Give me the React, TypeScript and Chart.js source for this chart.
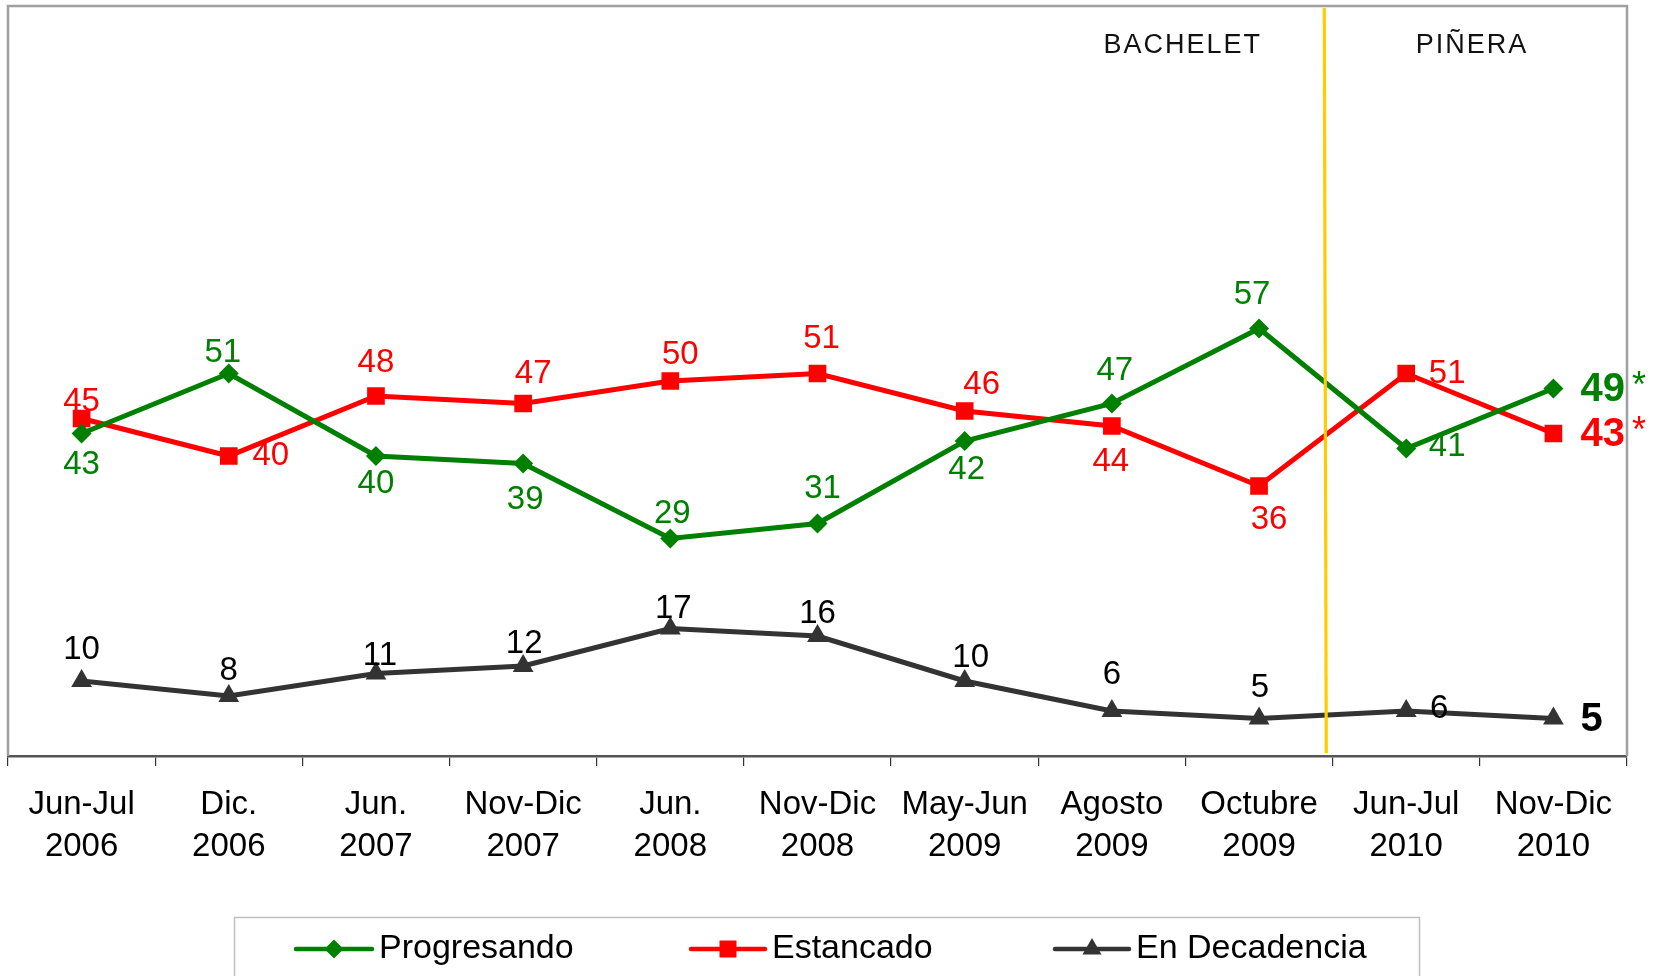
import React, { useEffect, useRef } from "react";
import { Chart, registerables } from "chart.js";

Chart.register(...registerables);

const CATEGORIES: string[][] = [
  ["Jun-Jul", "2006"],
  ["Dic.", "2006"],
  ["Jun.", "2007"],
  ["Nov-Dic", "2007"],
  ["Jun.", "2008"],
  ["Nov-Dic", "2008"],
  ["May-Jun", "2009"],
  ["Agosto", "2009"],
  ["Octubre", "2009"],
  ["Jun-Jul", "2010"],
  ["Nov-Dic", "2010"],
];
const PROGRESANDO = [43, 51, 40, 39, 29, 31, 42, 47, 57, 41, 49];
const ESTANCADO = [45, 40, 48, 47, 50, 51, 46, 44, 36, 51, 43];
const DECADENCIA = [10, 8, 11, 12, 17, 16, 10, 6, 5, 6, 5];
const SERIES_NAMES = ["Progresando", "Estancado", "En Decadencia"];
const Y_MIN = 0;
const Y_MAX = 100;
const PERIOD_NAMES = ["BACHELET", "PIÑERA"];
const PERIOD_CENTERS = [7.475, 9.44];
const DIVIDER_INDEX = 8.45;

// label offsets (style): [dx, dy] relative to point; last point is drawn bold to the right
const GREEN_OFFSETS = [[0, 31], [-6, -21], [0, 28], [2, 36], [2, -25], [5, -35], [2, 29], [3, -33], [-7, -34], [41, -2], null];
const RED_OFFSETS = [[0, -17], [42, 0], [0, -33], [10, -30], [10, -26], [4, -35], [17, -26], [-1, 36], [10, 34], [41, 0], null];
const BLACK_OFFSETS = [[0, -31], [0, -25], [4, -18], [1, -22], [3, -20], [0, -22], [6, -23], [0, -36], [1, -31], [33, -2], null];

const FONT = "'Liberation Sans', Arial, Helvetica, sans-serif";
const GREEN = "#008000";
const RED = "#FF0000";
const DARK = "#333333";

function drawMarker(ctx: CanvasRenderingContext2D, style: string, x: number, y: number, color: string) {
  ctx.save();
  ctx.fillStyle = color;
  ctx.beginPath();
  if (style === "diamond") {
    const r = 9.5;
    ctx.moveTo(x - r, y);
    ctx.lineTo(x, y - r);
    ctx.lineTo(x + r, y);
    ctx.lineTo(x, y + r);
  } else if (style === "square") {
    const h = 8.5;
    ctx.rect(x - h, y - h, 2 * h, 2 * h);
  } else {
    const r = 11;
    ctx.moveTo(x, y - r);
    ctx.lineTo(x + r * 0.866, y + r * 0.5);
    ctx.lineTo(x - r * 0.866, y + r * 0.5);
  }
  ctx.closePath();
  ctx.fill();
  ctx.restore();
}

const decorPlugin = {
  id: "decor",
  beforeDatasetsDraw(chart: any) {
    const { ctx, chartArea } = chart;
    ctx.save();
    ctx.strokeStyle = "#A0A0A0";
    ctx.lineWidth = 2.5;
    ctx.beginPath();
    ctx.moveTo(chartArea.left, chartArea.bottom);
    ctx.lineTo(chartArea.left, chartArea.top);
    ctx.lineTo(chartArea.right, chartArea.top);
    ctx.lineTo(chartArea.right, chartArea.bottom);
    ctx.stroke();
    ctx.restore();
  },
  afterDatasetsDraw(chart: any) {
    const { ctx, chartArea } = chart;
    const xs = chart.scales.x;
    ctx.save();
    // divider
    const dx = xs.getPixelForValue(DIVIDER_INDEX);
    ctx.strokeStyle = "#FFCC00";
    ctx.lineWidth = 3.2;
    ctx.beginPath();
    ctx.moveTo(dx - 1, chartArea.top + 2);
    ctx.lineTo(dx + 1, chartArea.bottom - 3);
    ctx.stroke();

    // period names
    ctx.fillStyle = "#111111";
    ctx.font = `27px ${FONT}`;
    (ctx as any).letterSpacing = "2px";
    ctx.textAlign = "left";
    ctx.textBaseline = "alphabetic";
    PERIOD_NAMES.forEach((name, i) => {
      const w = ctx.measureText(name).width - 2;
      const cx = xs.getPixelForValue(PERIOD_CENTERS[i]);
      ctx.fillText(name, cx - w / 2, 53);
    });
    (ctx as any).letterSpacing = "0px";

    // data labels
    const offsetSets = [GREEN_OFFSETS, RED_OFFSETS, BLACK_OFFSETS];
    const colors = [GREEN, RED, "#000000"];
    const star = [true, true, false];
    chart.data.datasets.forEach((ds: any, di: number) => {
      const meta = chart.getDatasetMeta(di);
      meta.data.forEach((pt: any, i: number) => {
        const v = ds.data[i];
        const off = offsetSets[di][i];
        ctx.fillStyle = colors[di];
        if (off) {
          ctx.font = `33px ${FONT}`;
          ctx.textAlign = "center";
          ctx.textBaseline = "middle";
          ctx.fillText(String(v), pt.x + off[0], pt.y + off[1]);
        } else {
          ctx.font = `bold 40px ${FONT}`;
          ctx.textAlign = "left";
          ctx.textBaseline = "middle";
          const lx = pt.x + 27;
          ctx.fillText(String(v), lx, pt.y + 1);
          if (star[di]) {
            const w = ctx.measureText(String(v)).width;
            ctx.font = `36px ${FONT}`;
            ctx.textBaseline = "alphabetic";
            ctx.fillText("*", lx + w + 7, pt.y + 8);
          }
        }
      });
    });
    ctx.restore();
  },
  afterDraw(chart: any) {
    const { ctx } = chart;
    ctx.save();
    ctx.strokeStyle = "#BFBFBF";
    ctx.lineWidth = 1.5;
    ctx.strokeRect(234.5, 917.5, 1185, 120);
    const items = [
      { x1: 296, x2: 372, color: GREEN, marker: "diamond" },
      { x1: 691, x2: 765, color: RED, marker: "square" },
      { x1: 1055, x2: 1129, color: DARK, marker: "triangle" },
    ];
    const y = 949;
    items.forEach((it, i) => {
      ctx.strokeStyle = it.color;
      ctx.lineWidth = 4.5;
      ctx.lineCap = "round";
      ctx.beginPath();
      ctx.moveTo(it.x1, y);
      ctx.lineTo(it.x2, y);
      ctx.stroke();
      drawMarker(ctx, it.marker, (it.x1 + it.x2) / 2, y, it.color);
      ctx.fillStyle = "#000000";
      ctx.font = `34px ${FONT}`;
      ctx.textAlign = "left";
      ctx.textBaseline = "alphabetic";
      ctx.fillText(SERIES_NAMES[i], it.x2 + 7, 958);
    });
    ctx.restore();
  },
};

export default function App() {
  const canvasRef = useRef<HTMLCanvasElement | null>(null);

  useEffect(() => {
    const canvas = canvasRef.current;
    if (!canvas) return;
    const chart = new Chart(canvas, {
      type: "line",
      data: {
        labels: CATEGORIES,
        datasets: [
          {
            label: SERIES_NAMES[0],
            data: PROGRESANDO,
            borderColor: GREEN,
            backgroundColor: GREEN,
            borderWidth: 5,
            pointStyle: "rectRot",
            pointRadius: 10,
            pointBorderWidth: 0,
            pointBackgroundColor: GREEN,
            tension: 0,
          },
          {
            label: SERIES_NAMES[1],
            data: ESTANCADO,
            borderColor: RED,
            backgroundColor: RED,
            borderWidth: 5,
            pointStyle: "rect",
            pointRadius: 12.5,
            pointBorderWidth: 0,
            pointBackgroundColor: RED,
            tension: 0,
          },
          {
            label: SERIES_NAMES[2],
            data: DECADENCIA,
            borderColor: DARK,
            backgroundColor: DARK,
            borderWidth: 5,
            pointStyle: "triangle",
            pointRadius: 12,
            pointBorderWidth: 0,
            pointBackgroundColor: DARK,
            tension: 0,
          },
        ],
      },
      options: {
        animation: false,
        responsive: false,
        maintainAspectRatio: false,
        layout: { autoPadding: false, padding: { left: 8, top: 6, right: 34, bottom: 0 } },
        plugins: {
          legend: { display: false },
          tooltip: { enabled: false },
        },
        scales: {
          x: {
            offset: true,
            grid: {
              offset: true,
              drawOnChartArea: false,
              drawTicks: true,
              tickLength: 10,
              color: "#333333",
              lineWidth: 1.2,
            },
            border: { display: true, color: "#555555", width: 2.5 },
            ticks: {
              color: "#000000",
              font: { family: FONT, size: 33, lineHeight: 42 / 33 },
              padding: 18,
              maxRotation: 0,
              autoSkip: false,
            },
            afterFit: (scale: any) => {
              scale.height = 220;
            },
          },
          y: { display: false, min: Y_MIN, max: Y_MAX },
        },
      },
      plugins: [decorPlugin],
    } as any);
    return () => chart.destroy();
  }, []);

  return (
    <div style={{ position: "fixed", left: 0, top: 0, width: 1661, height: 976, background: "#ffffff" }}>
      <canvas ref={canvasRef} width={1661} height={976} style={{ width: 1661, height: 976, display: "block" }} />
    </div>
  );
}
